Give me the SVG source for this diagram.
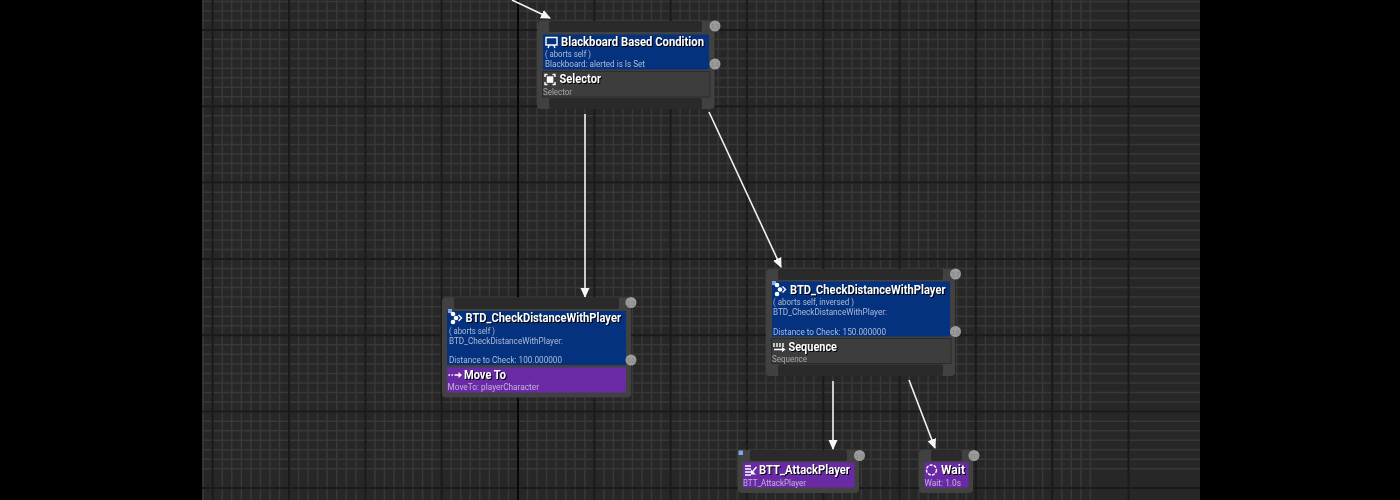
<svg xmlns="http://www.w3.org/2000/svg" width="1400" height="500" viewBox="0 0 1400 500">
<style>
.node{filter:blur(.3px)}
.outer{fill:#414141}
.bar{fill:#2a2a2a}
.blue{fill:#05327f}
.purple{fill:#6a2aa6}
.grey{fill:#3d3d3d;stroke:#2c2c2c;stroke-width:1}
.badge{fill:#9c9c9c}
.num{font:8px "Liberation Sans",Arial,sans-serif;fill:#858585;text-anchor:middle}
.title{font:bold 12.3px Roboto,"Liberation Sans",sans-serif;fill:#fff;filter:drop-shadow(1px 1px 0 #000)}
.sub{font:9px Roboto,"Liberation Sans",sans-serif;fill:#aebcd6}
.subg{font:9px Roboto,"Liberation Sans",sans-serif;fill:#a8a8a8}
.subp{font:9px Roboto,"Liberation Sans",sans-serif;fill:#c4b0da}
.mark{fill:#7fa8ea}
.ico{fill:none;stroke:#fff;stroke-width:1.4}
.icof{fill:#fff}
.conn{stroke:#f2f2f2;stroke-width:1.6;fill:none;marker-end:url(#arrow)}
</style>
<defs>
<marker id="arrow" viewBox="0 0 10 10" refX="9" refY="5" markerUnits="userSpaceOnUse" markerWidth="10" markerHeight="10" orient="auto"><path d="M0 0.500L10 5L0 9.500Z" fill="#f6f6f6"/></marker>
</defs>
<rect width="1400" height="500" fill="#000"/>
<rect x="202" y="0" width="998" height="500" fill="#272727"/>
<g id="grid" fill="none">
<path stroke="#383838" stroke-width="1.500" d="M203.160 0v500m9.540-500v500m9.540-500v500m9.540-500v500m9.540-500v500m9.540-500v500m9.540-500v500m9.540-500v500m9.540-500v500m9.540-500v500m9.540-500v500m9.540-500v500m9.540-500v500m9.540-500v500m9.540-500v500m9.540-500v500m9.540-500v500m9.540-500v500m9.540-500v500m9.540-500v500m9.540-500v500m9.540-500v500m9.540-500v500m9.540-500v500m9.540-500v500m9.540-500v500m9.540-500v500m9.540-500v500m9.540-500v500m9.540-500v500m9.540-500v500m9.540-500v500m9.540-500v500m9.540-500v500m9.540-500v500m9.540-500v500m9.540-500v500m9.540-500v500m9.540-500v500m9.540-500v500m9.540-500v500m9.540-500v500m9.540-500v500m9.540-500v500m9.540-500v500m9.540-500v500m9.540-500v500m9.540-500v500m9.540-500v500m9.540-500v500m9.540-500v500m9.540-500v500m9.540-500v500m9.540-500v500m9.540-500v500m9.540-500v500m9.540-500v500m9.540-500v500m9.540-500v500m9.540-500v500m9.540-500v500m9.540-500v500m9.540-500v500m9.540-500v500m9.540-500v500m9.540-500v500m9.540-500v500m9.540-500v500m9.540-500v500m9.540-500v500m9.540-500v500m9.540-500v500m9.540-500v500m9.540-500v500m9.540-500v500m9.540-500v500m9.540-500v500m9.540-500v500m9.540-500v500m9.540-500v500m9.540-500v500m9.540-500v500m9.540-500v500m9.540-500v500m9.540-500v500m9.540-500v500m9.540-500v500m9.540-500v500m9.540-500v500m9.540-500v500m9.540-500v500m9.540-500v500m9.540-500v500m9.540-500v500"/>
<path stroke="#383838" stroke-width="1.500" d="M202 1.380h998m-998 9.540h998m-998 9.540h998m-998 9.540h998m-998 9.540h998m-998 9.540h998m-998 9.540h998m-998 9.540h998m-998 9.540h998m-998 9.540h998m-998 9.540h998m-998 9.540h998m-998 9.540h998m-998 9.540h998m-998 9.540h998m-998 9.540h998m-998 9.540h998m-998 9.540h998m-998 9.540h998m-998 9.540h998m-998 9.540h998m-998 9.540h998m-998 9.540h998m-998 9.540h998m-998 9.540h998m-998 9.540h998m-998 9.540h998m-998 9.540h998m-998 9.540h998m-998 9.540h998m-998 9.540h998m-998 9.540h998m-998 9.540h998m-998 9.540h998m-998 9.540h998m-998 9.540h998m-998 9.540h998m-998 9.540h998m-998 9.540h998m-998 9.540h998m-998 9.540h998m-998 9.540h998m-998 9.540h998m-998 9.540h998m-998 9.540h998m-998 9.540h998m-998 9.540h998m-998 9.540h998m-998 9.540h998m-998 9.540h998"/>
<path stroke="#1a1a1a" stroke-width="2" d="M212.700 0v500M289 0v500M365.300 0v500M441.700 0v500M594.300 0v500M670.600 0v500M746.900 0v500M823.300 0v500M899.600 0v500M975.900 0v500M1052.200 0v500M1128.500 0v500M202 30h998M202 106.300h998M202 182.600h998M202 259h998M202 335.300h998M202 411.600h998M202 488h998"/>
<path stroke="#080808" stroke-width="2" d="M518 0v500"/>
</g>

<g id="connectors">
<path class="conn" d="M512 0L550 18"/>
<path class="conn" d="M585 114V297"/>
<path class="conn" d="M709 112L781 267"/>
<path class="conn" d="M833 381V449"/>
<path class="conn" d="M909 380L935 448"/>
</g>

<g id="node-blackboard-selector" class="node">
<rect class="outer" x="537" y="21" width="177.500" height="88" rx="4"/>
<rect class="bar" x="549" y="21" width="153" height="11" rx="2"/>
<rect class="bar" x="549" y="98" width="153" height="11" rx="2"/>
<rect class="blue" x="543" y="34.500" width="166" height="35"/>
<rect class="grey" x="542.500" y="71.500" width="167.500" height="25.500"/>
<circle class="badge" cx="715" cy="26" r="5.500"/><text class="num" x="715" y="29">13</text>
<circle class="badge" cx="715" cy="64" r="5.500"/><text class="num" x="715" y="67">14</text>
<path class="ico" d="M546 37.500H557V45H546ZM548 48L549.500 45M555 48L553.500 45"/>
<text class="title" x="561" y="46" textLength="143" lengthAdjust="spacingAndGlyphs">Blackboard Based Condition</text>
<text class="sub" x="545" y="57" textLength="46" lengthAdjust="spacingAndGlyphs">( aborts self )</text>
<text class="sub" x="545" y="67" textLength="100" lengthAdjust="spacingAndGlyphs">Blackboard: alerted is Is Set</text>
<path class="ico" d="M545 77V74.500H547.500M552.500 74.500H555V77M555 82V84.500H552.500M547.500 84.500H545V82"/>
<rect class="icof" x="546.800" y="76.300" width="6.500" height="6.500"/>
<text class="title" x="559.500" y="83" textLength="41.500" lengthAdjust="spacingAndGlyphs">Selector</text>
<text class="subg" x="543" y="95" textLength="29" lengthAdjust="spacingAndGlyphs">Selector</text>
</g>

<g id="node-distance-moveto" class="node">
<rect class="outer" x="442" y="297.500" width="189" height="100" rx="4"/>
<rect class="bar" x="454" y="297.500" width="165" height="11.500" rx="2"/>
<rect class="blue" x="447" y="311" width="179" height="54"/>
<rect class="purple" x="447" y="367.500" width="179" height="25"/>
<rect class="mark" x="448" y="309" width="4" height="4"/>
<circle class="badge" cx="631" cy="302.500" r="5.500"/><text class="num" x="631" y="305.500">15</text>
<circle class="badge" cx="631" cy="360" r="5.500"/><text class="num" x="631" y="363">16</text>
<circle class="icof" cx="453" cy="314" r="2.300"/><circle class="icof" cx="456" cy="318" r="2.300"/><circle class="icof" cx="453" cy="322" r="2.300"/><path class="ico" d="M458.500 315L461.500 318L458.500 321"/>
<text class="title" x="465.500" y="322" textLength="155.500" lengthAdjust="spacingAndGlyphs">BTD_CheckDistanceWithPlayer</text>
<text class="sub" x="449" y="334" textLength="46" lengthAdjust="spacingAndGlyphs">( aborts self )</text>
<text class="sub" x="449" y="344" textLength="114" lengthAdjust="spacingAndGlyphs">BTD_CheckDistanceWithPlayer:</text>
<text class="sub" x="449" y="363" textLength="113" lengthAdjust="spacingAndGlyphs">Distance to Check: 100.000000</text>
<path class="ico" d="M448.500 375H450M451.500 375H453M454.500 375H460"/><path class="icof" d="M458.500 372L462 375L458.500 378Z"/>
<text class="title" x="464" y="379" textLength="42" lengthAdjust="spacingAndGlyphs">Move To</text>
<text class="subp" x="447.500" y="390" textLength="91.500" lengthAdjust="spacingAndGlyphs">MoveTo: playerCharacter</text>
</g>

<g id="node-distance-sequence" class="node">
<rect class="outer" x="766" y="269" width="189" height="107" rx="4"/>
<rect class="bar" x="778" y="269" width="165" height="11" rx="2"/>
<rect class="bar" x="778" y="364.500" width="165" height="11.500" rx="2"/>
<rect class="blue" x="772" y="281.500" width="178" height="55"/>
<rect class="grey" x="771.500" y="338.500" width="179.500" height="25"/>
<rect class="mark" x="772" y="281" width="4" height="4"/>
<circle class="badge" cx="955.500" cy="274" r="5.500"/><text class="num" x="955.500" y="277">17</text>
<circle class="badge" cx="955.500" cy="331.500" r="5.500"/><text class="num" x="955.500" y="334.500">18</text>
<circle class="icof" cx="777" cy="285" r="2.300"/><circle class="icof" cx="780" cy="289.500" r="2.300"/><circle class="icof" cx="777" cy="294" r="2.300"/><path class="ico" d="M782.500 286.500L785.500 289.500L782.500 292.500"/>
<text class="title" x="790" y="293.500" textLength="155.500" lengthAdjust="spacingAndGlyphs">BTD_CheckDistanceWithPlayer</text>
<text class="sub" x="773" y="305" textLength="81" lengthAdjust="spacingAndGlyphs">( aborts self, inversed )</text>
<text class="sub" x="773" y="315" textLength="114" lengthAdjust="spacingAndGlyphs">BTD_CheckDistanceWithPlayer:</text>
<text class="sub" x="773" y="335" textLength="113" lengthAdjust="spacingAndGlyphs">Distance to Check: 150.000000</text>
<path class="ico" d="M774 343V347M777 343V347M780 343V347M783 343V347M774 349.500H783"/><path class="icof" d="M782 347L785.500 349.500L782 352Z"/>
<text class="title" x="788.500" y="350.500" textLength="48.500" lengthAdjust="spacingAndGlyphs">Sequence</text>
<text class="subg" x="772" y="362" textLength="35" lengthAdjust="spacingAndGlyphs">Sequence</text>
</g>

<g id="node-attack" class="node">
<rect class="outer" x="738" y="450" width="121" height="43" rx="4"/>
<rect class="bar" x="750" y="450" width="97" height="11" rx="2"/>
<rect class="purple" x="743" y="462.500" width="111.500" height="25"/>
<rect class="mark" x="738.500" y="450.500" width="4.500" height="4.500"/>
<circle class="badge" cx="859.500" cy="455.500" r="5.500"/><text class="num" x="859.500" y="458.500">19</text>
<path class="ico" d="M745 466H751M745 469H751M745 472H751M745 475H751"/><path class="ico" d="M756.500 467L751.500 473"/><path class="icof" d="M751 469.500V474.500H756Z"/>
<text class="title" x="759" y="474" textLength="91" lengthAdjust="spacingAndGlyphs">BTT_AttackPlayer</text>
<text class="subp" x="743" y="486" textLength="63" lengthAdjust="spacingAndGlyphs">BTT_AttackPlayer</text>
</g>

<g id="node-wait" class="node">
<rect class="outer" x="919" y="450" width="54" height="43" rx="4"/>
<rect class="bar" x="931" y="450" width="31" height="11" rx="2"/>
<rect class="purple" x="924.500" y="462.500" width="44" height="25"/>
<circle class="badge" cx="974" cy="455.500" r="5.500"/><text class="num" x="974" y="458.500">20</text>
<circle class="ico" cx="931.500" cy="470" r="5" stroke-dasharray="3 1.200"/>
<text class="title" x="941" y="474" textLength="24" lengthAdjust="spacingAndGlyphs">Wait</text>
<text class="subp" x="924.500" y="486" textLength="36.500" lengthAdjust="spacingAndGlyphs">Wait: 1.0s</text>
</g>
</svg>
